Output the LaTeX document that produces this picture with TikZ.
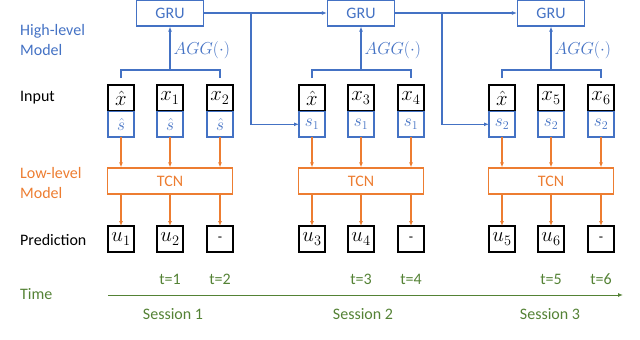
\documentclass[tikz,border=0pt]{standalone}
\usepackage{fontspec}
\setmainfont{Carlito}
\usetikzlibrary{positioning, arrows.meta, calc}
\definecolor{hiblue}{HTML}{4472C4}
\definecolor{loorange}{HTML}{ED7D31}
\definecolor{timegreen}{HTML}{548235}

\begin{document}
\begin{tikzpicture}[x=1pt, y=-1pt, font=\fontsize{16}{20}\selectfont, node distance=0.6pt,
  gru/.style={draw=hiblue, line width=1.2pt, text=hiblue, minimum width=67pt, minimum height=26pt, inner sep=0pt},
  tcn/.style={draw=loorange, line width=1.2pt, text=loorange, minimum width=125pt, minimum height=26pt, inner sep=0pt},
  xcell/.style={draw=black, line width=1.6pt, minimum size=26pt, inner sep=0pt, outer sep=0pt, font=\fontsize{21}{22}\selectfont},
  scell/.style={draw=hiblue, line width=1.2pt, text=hiblue, minimum width=26pt, minimum height=25.4pt, inner sep=0pt, outer sep=0pt, font=\fontsize{17}{19}\selectfont},
  hiline/.style={hiblue, line width=1.2pt},
  hiarrow/.style={-{Latex[length=5pt,width=4pt]}, hiline},
  loarrow/.style={-{Latex[length=5pt,width=4pt]}, loorange, line width=1.2pt},
  rowlabel/.style={anchor=west, align=left, inner sep=0pt},
  timelabel/.style={text=timegreen}]

  \useasboundingbox (0,0) rectangle (640,340);

  % row labels
  \node[rowlabel, text=hiblue] (hilab) at (20,40) {High-level\\Model};
  \node[rowlabel] (inlab) at (20,98) {Input};
  \node[rowlabel, text=loorange] (lolab) at (20,183) {Low-level\\Model};
  \node[rowlabel] (prlab) at (20,240) {Prediction};
  \node[rowlabel, text=timegreen] (tmlab) at (20,294) {Time};

  % high-level model
  \node[gru] (g1) at (170,13) {GRU};
  \node[gru] (g2) at (361,13) {GRU};
  \node[gru] (g3) at (551,13) {GRU};

  % inputs, session 1
  \node[xcell] (x11) at (121,98) {$\hat{x}$};
  \node[xcell] (x12) at (170,98) {$x_1$};
  \node[xcell] (x13) at (220,98) {$x_2$};
  \node[scell, below=of x11] (s11) {$\hat{s}$};
  \node[scell, below=of x12] (s12) {$\hat{s}$};
  \node[scell, below=of x13] (s13) {$\hat{s}$};
  % inputs, session 2
  \node[xcell] (x21) at (312,98) {$\hat{x}$};
  \node[xcell] (x22) at (361,98) {$x_3$};
  \node[xcell] (x23) at (411,98) {$x_4$};
  \node[scell, below=of x21] (s21) {$s_1$};
  \node[scell, below=of x22] (s22) {$s_1$};
  \node[scell, below=of x23] (s23) {$s_1$};
  % inputs, session 3
  \node[xcell] (x31) at (502,98) {$\hat{x}$};
  \node[xcell] (x32) at (551,98) {$x_5$};
  \node[xcell] (x33) at (601,98) {$x_6$};
  \node[scell, below=of x31] (s31) {$s_2$};
  \node[scell, below=of x32] (s32) {$s_2$};
  \node[scell, below=of x33] (s33) {$s_2$};

  % low-level model
  \node[tcn] (c1) at (170,181) {TCN};
  \node[tcn] (c2) at (361,181) {TCN};
  \node[tcn] (c3) at (551,181) {TCN};

  % predictions
  \node[xcell] (u11) at (121,239) {$u_1$};
  \node[xcell] (u12) at (170,239) {$u_2$};
  \node[xcell] (u13) at (220,239) {\fontsize{14}{14}\selectfont -};
  \node[xcell] (u21) at (312,239) {$u_3$};
  \node[xcell] (u22) at (361,239) {$u_4$};
  \node[xcell] (u23) at (411,239) {\fontsize{14}{14}\selectfont -};
  \node[xcell] (u31) at (502,239) {$u_5$};
  \node[xcell] (u32) at (551,239) {$u_6$};
  \node[xcell] (u33) at (601,239) {\fontsize{14}{14}\selectfont -};

  % aggregation brackets
  \coordinate (a1) at ($(x12.north)+(0,-15)$);
  \coordinate (a2) at ($(x22.north)+(0,-15)$);
  \coordinate (a3) at ($(x32.north)+(0,-15)$);
  \draw[hiline] ($(x11.north)+(0,-7)$) |- ($(x13.north)+(0,-15)$) -- ++(0,8);
  \draw[hiline] ($(x21.north)+(0,-7)$) |- ($(x23.north)+(0,-15)$) -- ++(0,8);
  \draw[hiline] ($(x31.north)+(0,-7)$) |- ($(x33.north)+(0,-15)$) -- ++(0,8);
  \draw[hiarrow] (a1) -- node[right, pos=0.45, inner sep=3pt] {$AGG(\cdot)$} (g1.south);
  \draw[hiarrow] (a2) -- node[right, pos=0.45, inner sep=3pt] {$AGG(\cdot)$} (g2.south);
  \draw[hiarrow] (a3) -- node[right, pos=0.45, inner sep=3pt] {$AGG(\cdot)$} (g3.south);

  % session state passing
  \coordinate (b1) at (251,13);
  \coordinate (b2) at (442,13);
  \draw[hiarrow] (g1.east) -- (g2.west);
  \draw[hiarrow] (g2.east) -- (g3.west);
  \draw[hiarrow] (b1) |- (s21.west);
  \draw[hiarrow] (b2) |- (s31.west);

  % into and out of TCN
  \draw[loarrow] (s11.south) -- (s11.south |- c1.north);
  \draw[loarrow] (s12.south) -- (s12.south |- c1.north);
  \draw[loarrow] (s13.south) -- (s13.south |- c1.north);
  \draw[loarrow] (s21.south) -- (s21.south |- c2.north);
  \draw[loarrow] (s22.south) -- (s22.south |- c2.north);
  \draw[loarrow] (s23.south) -- (s23.south |- c2.north);
  \draw[loarrow] (s31.south) -- (s31.south |- c3.north);
  \draw[loarrow] (s32.south) -- (s32.south |- c3.north);
  \draw[loarrow] (s33.south) -- (s33.south |- c3.north);
  \draw[loarrow] (u11.north |- c1.south) -- (u11.north);
  \draw[loarrow] (u12.north |- c1.south) -- (u12.north);
  \draw[loarrow] (u13.north |- c1.south) -- (u13.north);
  \draw[loarrow] (u21.north |- c2.south) -- (u21.north);
  \draw[loarrow] (u22.north |- c2.south) -- (u22.north);
  \draw[loarrow] (u23.north |- c2.south) -- (u23.north);
  \draw[loarrow] (u31.north |- c3.south) -- (u31.north);
  \draw[loarrow] (u32.north |- c3.south) -- (u32.north);
  \draw[loarrow] (u33.north |- c3.south) -- (u33.north);

  % time axis
  \node[timelabel] (t1) at (170,279) {t=1};
  \node[timelabel] (t2) at (220,279) {t=2};
  \node[timelabel] (t3) at (361,279) {t=3};
  \node[timelabel] (t4) at (411,279) {t=4};
  \node[timelabel] (t5) at (551,279) {t=5};
  \node[timelabel] (t6) at (601,279) {t=6};
  \coordinate (tbeg) at (108,295);
  \coordinate (tend) at (623,295);
  \draw[-{Latex[length=5pt,width=4pt]}, timegreen, line width=1pt] (tbeg) -- (tend);
  \node[timelabel] (ses1) at (173,314) {Session 1};
  \node[timelabel] (ses2) at (363,314) {Session 2};
  \node[timelabel] (ses3) at (550,314) {Session 3};
\end{tikzpicture}
\end{document}
